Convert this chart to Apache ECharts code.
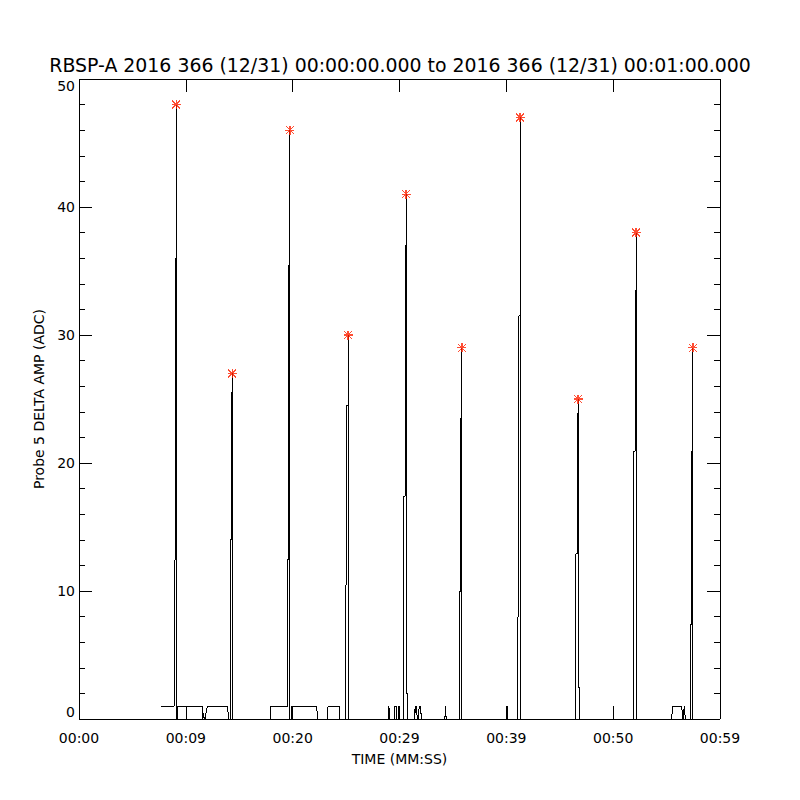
<!DOCTYPE html>
<html><head><meta charset="utf-8">
<script src="https://cdn.jsdelivr.net/npm/echarts@6/dist/echarts.min.js"></script>
<style>html,body{margin:0;padding:0;background:#fff}#c{width:800px;height:800px}#c svg path{shape-rendering:crispEdges}</style>
</head><body><div id="c"></div><script>
const titleText = 'RBSP-A 2016 366 (12/31) 00:00:00.000 to 2016 366 (12/31) 00:01:00.000';
const xTickLabels = ['00:00','00:09','00:20','00:29','00:39','00:50','00:59'];
const xName = 'TIME (MM:SS)';
const yName = 'Probe 5 DELTA AMP (ADC)';

const traceTime = [7.68,
  8.90,8.90,8.995,8.995,9.09,9.09,9.09,9.20,9.20,
  10.05,10.08,10.11,11.55,11.60,11.66,11.72,11.79,12.01,13.92,13.98,
  14.14,14.14,14.235,14.235,14.33,14.33,14.33,
  17.94,17.96,
  19.56,19.56,19.655,19.655,19.75,19.75,19.75,19.90,19.90,
  22.25,22.32,23.28,23.31,24.34,24.41,
  24.99,24.99,25.085,25.085,25.18,25.18,25.18,
  28.95,29.01,29.06,29.50,29.58,29.70,29.76,29.88,29.94,30.00,
  30.42,30.42,30.515,30.515,30.61,30.61,30.61,30.705,30.705,
  31.40,31.47,31.53,31.60,31.66,31.78,31.84,31.98,32.04,34.25,34.31,34.37,
  35.66,35.66,35.755,35.755,35.85,35.85,35.85,
  40.07,40.08,40.09,
  41.09,41.09,41.185,41.185,41.28,41.28,41.28,
  46.52,46.52,46.615,46.615,46.71,46.71,46.71,46.805,46.805,
  49.99,50.00,50.01,
  51.95,51.95,52.045,52.045,52.14,52.14,52.14,
  55.48,55.55,56.42,56.50,56.60,56.64,56.76,
  57.28,57.28,57.375,57.375,57.47,57.47,57.47,59.90];
const traceValue = [1,
  1,12.4,12.4,36,36,48,0,0,1,
  1,0,1,1,0,0.5,0,0,1,1,0,
  0,14,14,25.5,25.5,27,0,
  0,1,
  1,12.5,12.5,35.5,35.5,46,0,0,1,
  1,0,0,1,1,0,
  0,10.5,10.5,24.5,24.5,30,0,
  0,1,0,0,1,1,0,0,1,0,
  0,17.4,17.4,37,37,41,2,2,0,
  0,1,0.5,1,0,0,1,1,0,0,1,0,
  0,10,10,23.5,23.5,29,0,
  0,1,0,
  0,8,8,31.5,31.5,47,0,
  0,12.9,12.9,23.9,23.9,25,2.5,2.5,0,
  0,1,0,
  0,20.9,20.9,33.5,33.5,38,0,
  0,1,1,0,0,1,0,
  0,7.4,7.4,20.9,20.9,29,0,0];

const peakTime = [9.09,14.33,19.75,25.18,30.61,35.85,41.28,46.71,52.14,57.47];
const peakValue = [48,27,46,30,41,29,47,25,38,29];

const FONT = 'DejaVu Sans';
const STAR = 'path://M4.4 0L5.6 0L5.6 10L4.4 10Z M0 4.4L10 4.4L10 5.6L0 5.6Z M0 0.8L0.8 0L10 9.2L9.2 10Z M9.2 0L10 0.8L0.8 10L0 9.2Z';

const chart = echarts.init(document.getElementById('c'), null, {renderer: 'svg', width: 800, height: 800});
const lineBlack = {color: '#000', width: 1};
function xAx(pos, labels) {
  return {
    type: 'value', min: 0, max: 60, interval: 10, position: pos,
    axisLine: {show: true, onZero: false, lineStyle: lineBlack},
    axisTick: {show: true, inside: true, length: 13, lineStyle: lineBlack},
    axisLabel: {show: labels, margin: 12, fontFamily: FONT, fontSize: 14, color: '#000',
      formatter: v => xTickLabels[Math.round(v / 10)]},
    splitLine: {show: false},
    name: labels ? xName : '', nameLocation: 'middle', nameGap: 33,
    nameTextStyle: {fontFamily: FONT, fontSize: 14, color: '#000'}
  };
}
function yAx(pos, labels) {
  return {
    type: 'value', min: 0, max: 50, interval: 10, position: pos,
    axisLine: {show: true, onZero: false, lineStyle: lineBlack},
    axisTick: {show: true, inside: true, length: 13, lineStyle: lineBlack},
    minorTick: {show: true, splitNumber: 5, length: 6, lineStyle: lineBlack},
    axisLabel: {show: labels, margin: 4, fontFamily: FONT, fontSize: 14, color: '#000',
      verticalAlignMaxLabel: 'top', verticalAlignMinLabel: 'bottom'},
    splitLine: {show: false}, minorSplitLine: {show: false},
    name: labels ? yName : '', nameLocation: 'middle', nameGap: 27, nameRotate: 90,
    nameTextStyle: {fontFamily: FONT, fontSize: 14, color: '#000'}
  };
}
chart.setOption({
  animation: false,
  backgroundColor: '#fff',
  title: {text: titleText, left: 'center', top: 50,
    textStyle: {fontFamily: FONT, fontSize: 18.9, fontWeight: 'normal', color: '#000'}},
  grid: {left: 79, right: 80, top: 79, bottom: 81},
  xAxis: [xAx('bottom', true), xAx('top', false)],
  yAxis: [yAx('left', true), yAx('right', false)],
  series: [
    {type: 'line', xAxisIndex: 0, yAxisIndex: 0, data: traceTime.map((t, i) => [t, traceValue[i]]),
      showSymbol: false, symbol: 'none', lineStyle: lineBlack, silent: true, z: 2},
    {type: 'scatter', xAxisIndex: 0, yAxisIndex: 0, data: peakTime.map((t, i) => [t, peakValue[i]]),
      symbol: STAR, symbolSize: 9, itemStyle: {color: '#ff2000'}, silent: true, z: 3}
  ]
});
</script></body></html>
